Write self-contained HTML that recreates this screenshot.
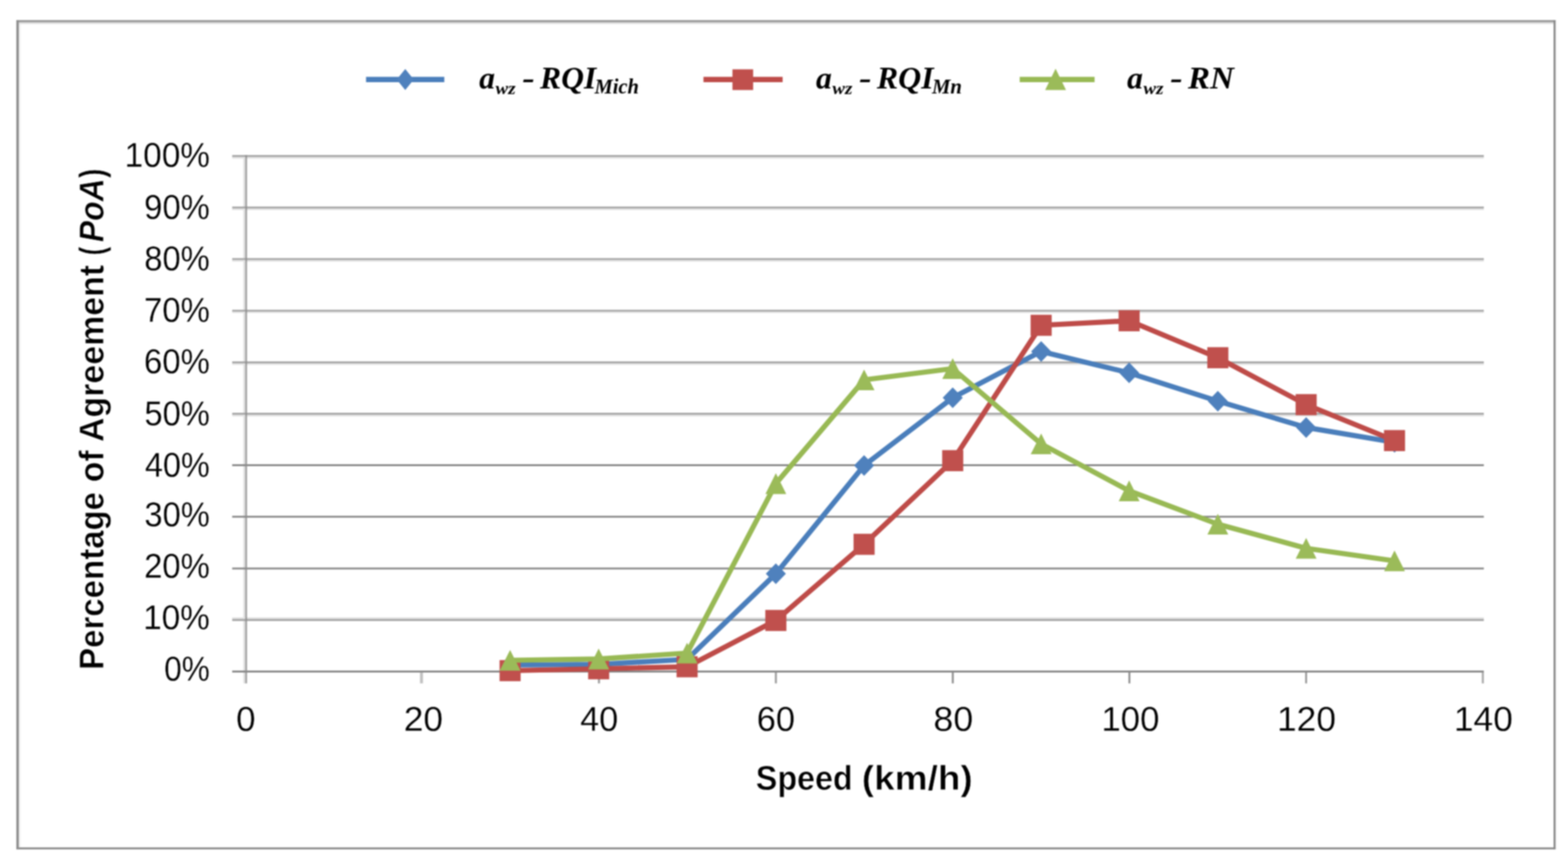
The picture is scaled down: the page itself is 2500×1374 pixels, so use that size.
<!DOCTYPE html>
<html lang="en"><head><meta charset="utf-8"><title>Percentage of Agreement vs Speed</title>
<style>
html,body{margin:0;padding:0;background:#fff}body{width:2500px;height:1374px}
svg{display:block}
.lab{font-family:"Liberation Sans",sans-serif;fill:#000;stroke:#fff;stroke-width:0.3px}
.ttl{font-family:"Liberation Sans",sans-serif;font-weight:bold;fill:#000;stroke:#fff;stroke-width:0.8px}
.leg{font-family:"Liberation Serif",serif;font-weight:bold;font-style:italic;fill:#000}
</style></head><body>
<svg width="2500" height="1374" viewBox="0 0 2500 1374">
<defs><filter id="soft" x="0" y="0" width="2500" height="1374" filterUnits="userSpaceOnUse" color-interpolation-filters="sRGB"><feGaussianBlur stdDeviation="0.8"/></filter></defs>
<rect x="0" y="0" width="2500" height="1374" fill="#ffffff"/>
<g filter="url(#soft)">
<rect x="0" y="0" width="2500" height="1374" fill="#ffffff"/>
<rect x="30.0" y="35.6" width="2.8" height="1315.2" fill="#f1f1f1"/>
<rect x="30.0" y="35.6" width="2447.0" height="2.8" fill="#e2e2e2"/>
<rect x="2480.1" y="32.0" width="2.6" height="1321.8" fill="#f7f7f7"/>
<rect x="26.0" y="32.0" width="2454.1" height="3.6" fill="#9a9a9a"/>
<rect x="26.0" y="1350.8" width="2454.1" height="3.0" fill="#858585"/>
<rect x="26.0" y="32.0" width="4.0" height="1321.8" fill="#909090"/>
<rect x="2477.0" y="32.0" width="3.1" height="1321.8" fill="#878787"/>
<rect x="388.0" y="247.2" width="3.0" height="842.1" fill="#e0e0e0"/>
<g>
<rect x="370.2" y="250.0" width="1995.6" height="2.8" fill="#e1e1e1"/>
<rect x="370.2" y="247.2" width="1995.6" height="2.8" fill="#a3a3a3"/>
<rect x="370.2" y="332.2" width="1995.6" height="2.8" fill="#e3e3e3"/>
<rect x="370.2" y="329.3" width="1995.6" height="2.9" fill="#a3a3a3"/>
<rect x="370.2" y="414.3" width="1995.6" height="2.7" fill="#e2e2e2"/>
<rect x="370.2" y="411.5" width="1995.6" height="2.8" fill="#a3a3a3"/>
<rect x="370.2" y="496.6" width="1995.6" height="2.4" fill="#e4e4e4"/>
<rect x="370.2" y="493.8" width="1995.6" height="2.8" fill="#a3a3a3"/>
<rect x="370.2" y="579.0" width="1995.6" height="2.6" fill="#e2e2e2"/>
<rect x="370.2" y="576.1" width="1995.6" height="2.9" fill="#a3a3a3"/>
<rect x="370.2" y="660.9" width="1995.6" height="2.8" fill="#e1e1e1"/>
<rect x="370.2" y="658.0" width="1995.6" height="2.9" fill="#a3a3a3"/>
<rect x="370.2" y="740.0" width="1995.6" height="3.0" fill="#868686"/>
<rect x="370.2" y="822.2" width="1995.6" height="2.9" fill="#868686"/>
<rect x="370.2" y="904.7" width="1995.6" height="2.9" fill="#868686"/>
<rect x="370.2" y="984.0" width="1995.6" height="2.7" fill="#e2e2e2"/>
<rect x="370.2" y="986.7" width="1995.6" height="3.1" fill="#a3a3a3"/>
<rect x="370.2" y="1068.9" width="1995.6" height="3.0" fill="#828282"/>
</g>
<rect x="391.0" y="247.2" width="3.0" height="842.1" fill="#8c8c8c" fill-opacity="0.78"/>
<rect x="669.6" y="1071.9" width="4.8" height="17.4" fill="#c2c2c2"/>
<rect x="953.4" y="1071.9" width="3.2" height="17.4" fill="#9a9a9a"/>
<rect x="1235.5" y="1071.9" width="3.1" height="17.4" fill="#9a9a9a"/>
<rect x="1517.6" y="1071.9" width="3.0" height="17.4" fill="#8c8c8c"/>
<rect x="1799.2" y="1071.9" width="3.0" height="17.4" fill="#8c8c8c"/>
<rect x="2080.9" y="1071.9" width="3.1" height="17.4" fill="#9a9a9a"/>
<rect x="2362.6" y="1071.9" width="3.2" height="17.4" fill="#a8a8a8"/>
<polyline points="813.3,1060.0 954.5,1059.0 1095.5,1051.0 1237.0,914.5 1377.7,742.0 1519.0,634.0 1660.0,560.2 1800.3,594.3 1941.7,639.4 2082.5,681.4 2223.4,705.0" fill="none" stroke="#4a7ebb" stroke-width="8.2" stroke-linejoin="round" stroke-linecap="round"/>
<g fill="#4f81bd">
<path d="M813.3 1043.5L829.3 1060.0L813.3 1076.5L797.3 1060.0Z"/>
<path d="M954.5 1042.5L970.5 1059.0L954.5 1075.5L938.5 1059.0Z"/>
<path d="M1095.5 1034.5L1111.5 1051.0L1095.5 1067.5L1079.5 1051.0Z"/>
<path d="M1237.0 898.0L1253.0 914.5L1237.0 931.0L1221.0 914.5Z"/>
<path d="M1377.7 725.5L1393.7 742.0L1377.7 758.5L1361.7 742.0Z"/>
<path d="M1519.0 617.5L1535.0 634.0L1519.0 650.5L1503.0 634.0Z"/>
<path d="M1660.0 543.7L1676.0 560.2L1660.0 576.7L1644.0 560.2Z"/>
<path d="M1800.3 577.8L1816.3 594.3L1800.3 610.8L1784.3 594.3Z"/>
<path d="M1941.7 622.9L1957.7 639.4L1941.7 655.9L1925.7 639.4Z"/>
<path d="M2082.5 664.9L2098.5 681.4L2082.5 697.9L2066.5 681.4Z"/>
<path d="M2223.4 688.5L2239.4 705.0L2223.4 721.5L2207.4 705.0Z"/>
</g>
<polyline points="813.3,1069.0 954.5,1066.0 1095.5,1062.8 1237.0,989.0 1377.7,867.6 1519.0,734.3 1660.0,518.5 1800.3,511.3 1941.7,570.2 2082.5,645.0 2223.4,702.3" fill="none" stroke="#be4b48" stroke-width="8.2" stroke-linejoin="round" stroke-linecap="round"/>
<g fill="#c0504d">
<rect x="796.5" y="1052.2" width="33.6" height="33.6"/>
<rect x="937.7" y="1049.2" width="33.6" height="33.6"/>
<rect x="1078.7" y="1046.0" width="33.6" height="33.6"/>
<rect x="1220.2" y="972.2" width="33.6" height="33.6"/>
<rect x="1360.9" y="850.8" width="33.6" height="33.6"/>
<rect x="1502.2" y="717.5" width="33.6" height="33.6"/>
<rect x="1643.2" y="501.7" width="33.6" height="33.6"/>
<rect x="1783.5" y="494.5" width="33.6" height="33.6"/>
<rect x="1924.9" y="553.4" width="33.6" height="33.6"/>
<rect x="2065.7" y="628.2" width="33.6" height="33.6"/>
<rect x="2206.6" y="685.5" width="33.6" height="33.6"/>
</g>
<polyline points="813.3,1052.5 954.5,1050.4 1095.5,1041.0 1237.0,770.8 1377.7,605.5 1519.0,587.5 1660.0,707.5 1800.3,782.4 1941.7,835.5 2082.5,874.0 2223.4,894.0" fill="none" stroke="#98b954" stroke-width="8.2" stroke-linejoin="round" stroke-linecap="round"/>
<g fill="#9bbb59">
<path d="M813.3 1035.9L829.9 1069.1L796.7 1069.1Z"/>
<path d="M954.5 1033.8L971.1 1067.0L937.9 1067.0Z"/>
<path d="M1095.5 1024.4L1112.1 1057.6L1078.9 1057.6Z"/>
<path d="M1237.0 754.2L1253.6 787.4L1220.4 787.4Z"/>
<path d="M1377.7 588.9L1394.3 622.1L1361.1 622.1Z"/>
<path d="M1519.0 570.9L1535.6 604.1L1502.4 604.1Z"/>
<path d="M1660.0 690.9L1676.6 724.1L1643.4 724.1Z"/>
<path d="M1800.3 765.8L1816.9 799.0L1783.7 799.0Z"/>
<path d="M1941.7 818.9L1958.3 852.1L1925.1 852.1Z"/>
<path d="M2082.5 857.4L2099.1 890.6L2065.9 890.6Z"/>
<path d="M2223.4 877.4L2240.0 910.6L2206.8 910.6Z"/>
</g>
<line x1="583.6" y1="126.8" x2="708.4" y2="126.8" stroke="#4a7ebb" stroke-width="8.5"/>
<g fill="#4f81bd"><path d="M646.1 109.9L659.7 126.7L646.1 143.5L632.5 126.7Z"/></g>
<line x1="1121.6" y1="126.8" x2="1247.8" y2="126.8" stroke="#be4b48" stroke-width="8.5"/>
<g fill="#c0504d"><rect x="1167.8" y="110.5" width="33.0" height="33.0"/></g>
<line x1="1625.8" y1="126.8" x2="1745.2" y2="126.8" stroke="#98b954" stroke-width="8.5"/>
<g fill="#9bbb59"><path d="M1683.0 109.5L1699.6 143.5L1666.4 143.5Z"/></g>
<text class="leg">
<tspan x="763.9" y="141.0" font-size="50" textLength="25.3" lengthAdjust="spacingAndGlyphs">a</tspan><tspan x="790.0" y="149.6" font-size="28" textLength="32.1" lengthAdjust="spacingAndGlyphs">wz</tspan> <tspan x="832.7" y="141.0" font-size="50" textLength="19.9" lengthAdjust="spacingAndGlyphs">-</tspan> <tspan x="861.1" y="141.0" font-size="50" textLength="89.5" lengthAdjust="spacingAndGlyphs">RQI</tspan><tspan x="947.9" y="149.4" font-size="33" textLength="70.7" lengthAdjust="spacingAndGlyphs">Mich</tspan>
</text>
<text class="leg">
<tspan x="1300.9" y="141.0" font-size="50" textLength="25.3" lengthAdjust="spacingAndGlyphs">a</tspan><tspan x="1327.0" y="149.6" font-size="28" textLength="32.1" lengthAdjust="spacingAndGlyphs">wz</tspan> <tspan x="1369.7" y="141.0" font-size="50" textLength="19.9" lengthAdjust="spacingAndGlyphs">-</tspan> <tspan x="1398.1" y="141.0" font-size="50" textLength="90.5" lengthAdjust="spacingAndGlyphs">RQI</tspan><tspan x="1485.9" y="149.4" font-size="33" textLength="47.7" lengthAdjust="spacingAndGlyphs">Mn</tspan>
</text>
<text class="leg">
<tspan x="1796.9" y="141.0" font-size="50" textLength="25.3" lengthAdjust="spacingAndGlyphs">a</tspan><tspan x="1823.0" y="149.6" font-size="28" textLength="32.1" lengthAdjust="spacingAndGlyphs">wz</tspan> <tspan x="1865.7" y="141.0" font-size="50" textLength="19.9" lengthAdjust="spacingAndGlyphs">-</tspan> <tspan x="1894.1" y="141.0" font-size="50" textLength="73.3" lengthAdjust="spacingAndGlyphs">RN</tspan>
</text>
<text class="lab" x="198.8" y="266.4" font-size="55" textLength="135.9" lengthAdjust="spacingAndGlyphs">100%</text>
<text class="lab" x="229.8" y="349.1" font-size="55" textLength="104.8" lengthAdjust="spacingAndGlyphs">90%</text>
<text class="lab" x="230.0" y="430.9" font-size="55" textLength="104.6" lengthAdjust="spacingAndGlyphs">80%</text>
<text class="lab" x="229.6" y="513.1" font-size="55" textLength="105.1" lengthAdjust="spacingAndGlyphs">70%</text>
<text class="lab" x="229.6" y="595.1" font-size="55" textLength="105.0" lengthAdjust="spacingAndGlyphs">60%</text>
<text class="lab" x="230.2" y="677.5" font-size="55" textLength="104.4" lengthAdjust="spacingAndGlyphs">50%</text>
<text class="lab" x="231.1" y="759.5" font-size="55" textLength="103.5" lengthAdjust="spacingAndGlyphs">40%</text>
<text class="lab" x="230.3" y="838.8" font-size="55" textLength="104.3" lengthAdjust="spacingAndGlyphs">30%</text>
<text class="lab" x="229.7" y="920.7" font-size="55" textLength="105.0" lengthAdjust="spacingAndGlyphs">20%</text>
<text class="lab" x="228.2" y="1003.0" font-size="55" textLength="106.4" lengthAdjust="spacingAndGlyphs">10%</text>
<text class="lab" x="261.8" y="1085.4" font-size="55" textLength="72.8" lengthAdjust="spacingAndGlyphs">0%</text>
<text class="lab" x="376.6" y="1164.6" font-size="55" textLength="30.9" lengthAdjust="spacingAndGlyphs">0</text>
<text class="lab" x="643.8" y="1164.6" font-size="55" textLength="62.6" lengthAdjust="spacingAndGlyphs">20</text>
<text class="lab" x="924.9" y="1164.6" font-size="55" textLength="60.8" lengthAdjust="spacingAndGlyphs">40</text>
<text class="lab" x="1206.4" y="1164.6" font-size="55" textLength="61.1" lengthAdjust="spacingAndGlyphs">60</text>
<text class="lab" x="1488.3" y="1164.6" font-size="55" textLength="63.3" lengthAdjust="spacingAndGlyphs">80</text>
<text class="lab" x="1756.0" y="1164.6" font-size="55" textLength="92.6" lengthAdjust="spacingAndGlyphs">100</text>
<text class="lab" x="2035.9" y="1164.6" font-size="55" textLength="94.3" lengthAdjust="spacingAndGlyphs">120</text>
<text class="lab" x="2317.9" y="1164.6" font-size="55" textLength="94.3" lengthAdjust="spacingAndGlyphs">140</text>
<text class="ttl" font-size="55.5"><tspan x="1205.1" y="1259" textLength="154.3" lengthAdjust="spacingAndGlyphs">Speed</tspan> <tspan x="1374.1" y="1259" textLength="176.9" lengthAdjust="spacingAndGlyphs">(km/h)</tspan></text>
<g transform="translate(164.9,1064.3) rotate(-90)">
<text class="ttl" font-size="55.5"><tspan x="-3.5" y="0" textLength="283.6" lengthAdjust="spacingAndGlyphs">Percentage</tspan> <tspan x="295.8" y="0" textLength="50.5" lengthAdjust="spacingAndGlyphs">of</tspan> <tspan x="359.9" y="0" textLength="282.1" lengthAdjust="spacingAndGlyphs">Agreement</tspan> <tspan x="657.2" y="0" textLength="13.7" lengthAdjust="spacingAndGlyphs">(</tspan><tspan x="678.4" y="0" font-style="italic" textLength="101.6" lengthAdjust="spacingAndGlyphs">PoA</tspan><tspan x="780.5" y="0" textLength="15.0" lengthAdjust="spacingAndGlyphs">)</tspan></text>
</g>
</svg>
</body></html>
